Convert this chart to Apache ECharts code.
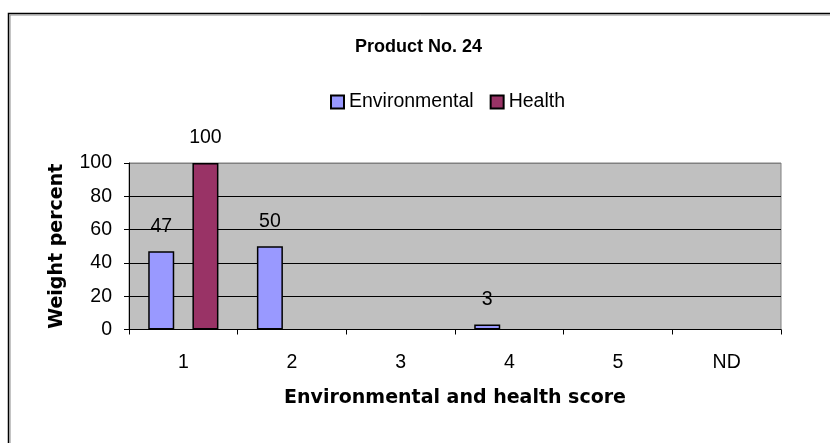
<!DOCTYPE html>
<html>
<head>
<meta charset="utf-8">
<script src="https://cdn.jsdelivr.net/npm/echarts@6/dist/echarts.min.js"></script>
<style>html,body{margin:0;padding:0;background:#fff;}#c{width:830px;height:443px;}</style>
</head>
<body>
<div id="c"></div>
<script>
const categories = ['1', '2', '3', '4', '5', 'ND'];
const environmental = [47, 50, null, 3, null, null];
const health = [100, null, null, null, null, null];
const yTicks = { min: 0, max: 100, interval: 20 };

const chart = echarts.init(document.getElementById('c'), null, { renderer: 'canvas' });
const normalFont = 'Liberation Sans, Arial, sans-serif';
const boldFont = 'DejaVu Sans, Verdana, sans-serif';
const labelStyle = {
  show: true, position: 'top', distance: 15,
  fontFamily: normalFont, fontSize: 19.5, color: '#000'
};
chart.setOption({
  animation: false,
  backgroundColor: '#fff',
  graphic: [
    { type: 'rect', shape: { x: 8.5, y: 13.5, width: 900, height: 500 }, style: { fill: 'none', stroke: '#000', lineWidth: 1.5 }, silent: true },
    { type: 'rect', shape: { x: 10, y: 15, width: 900, height: 500 }, style: { fill: 'none', stroke: '#8a8a8a', lineWidth: 1 }, silent: true }
  ],
  title: {
    text: 'Product No. 24',
    left: 350, top: 33,
    textStyle: { fontFamily: normalFont, fontWeight: 'bold', fontSize: 18, color: '#000' }
  },
  legend: {
    left: 325, top: 87,
    itemWidth: 13, itemHeight: 13, itemGap: 16,
    icon: 'rect',
    textStyle: { fontFamily: normalFont, fontSize: 19.5, color: '#000' },
    data: ['Environmental', 'Health']
  },
  grid: {
    left: 129, right: 49, top: 163, bottom: 113.5,
    show: true, backgroundColor: '#C0C0C0', borderColor: '#808080', borderWidth: 1
  },
  xAxis: {
    type: 'category',
    data: categories,
    boundaryGap: true,
    axisLine: { lineStyle: { color: '#000', width: 1 } },
    axisTick: { show: true, alignWithLabel: false, inside: false, length: 5, lineStyle: { color: '#000' } },
    axisLabel: { fontFamily: normalFont, fontSize: 19.5, color: '#000', margin: 23 },
    name: 'Environmental and health score',
    nameLocation: 'middle', nameGap: 59,
    nameTextStyle: { fontFamily: boldFont, fontWeight: 'bold', fontSize: 19, color: '#000' }
  },
  yAxis: {
    type: 'value',
    min: yTicks.min, max: yTicks.max, interval: yTicks.interval,
    axisLine: { show: true, lineStyle: { color: '#000', width: 1 } },
    axisTick: { show: true, length: 5, lineStyle: { color: '#000' } },
    axisLabel: { fontFamily: normalFont, fontSize: 19.5, color: '#000', margin: 17 },
    splitLine: { show: true, lineStyle: { color: ['#000', '#000', '#000', '#000', '#000', '#808080'], width: 1 } },
    name: 'Weight percent',
    nameLocation: 'middle', nameGap: 62, nameRotate: 90,
    nameTextStyle: { fontFamily: boldFont, fontWeight: 'bold', fontSize: 19, color: '#000' }
  },
  series: [
    {
      name: 'Environmental', type: 'bar', data: environmental,
      barWidth: 26, barGap: '70%',
      itemStyle: { color: '#9999FF', borderColor: '#000', borderWidth: 1.5 },
      label: labelStyle
    },
    {
      name: 'Health', type: 'bar', data: health,
      barWidth: 26,
      itemStyle: { color: '#993366', borderColor: '#000', borderWidth: 1.5 },
      label: labelStyle
    }
  ]
});
</script>
</body>
</html>
